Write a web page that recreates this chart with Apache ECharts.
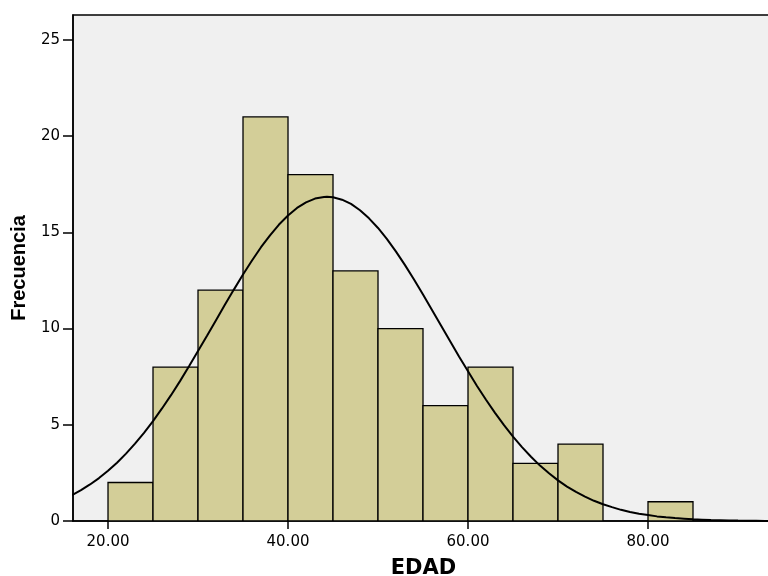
<!DOCTYPE html>
<html>
<head>
<meta charset="utf-8">
<script src="https://cdn.jsdelivr.net/npm/echarts@6.0.0/dist/echarts.min.js"></script>
<style>
html,body{margin:0;padding:0;background:#fff;}
#chart{width:768px;height:576px;}
</style>
</head>
<body>
<div id="chart"></div>
<script>
// Histogram bins of EDAD: [start, end, frequency]
const binStarts = [20, 25, 30, 35, 40, 45, 50, 55, 60, 65, 70, 80];
const binEnds   = [25, 30, 35, 40, 45, 50, 55, 60, 65, 70, 75, 85];
const counts    = [2, 8, 12, 21, 18, 13, 10, 6, 8, 3, 4, 1];

// Normal curve (x = EDAD, y = frecuencia)
const curveX = [16, 17, 18, 19, 20, 21, 22, 23, 24, 25, 26, 27, 28, 29, 30, 31, 32, 33, 34, 35, 36, 37, 38, 39, 40, 41, 42, 43, 44, 44.33, 45, 46, 47, 48, 49, 50, 51, 52, 53, 54, 55, 56, 57, 58, 59, 60, 61, 62, 63, 64, 65, 66, 67, 68, 69, 70, 71, 72, 73, 74, 75, 76, 77, 78, 79, 80, 81, 82, 83, 84, 85, 86, 87, 88, 89, 90, 91, 92, 93, 94];
const curveY = [1.34, 1.60, 1.90, 2.23, 2.61, 3.03, 3.50, 4.02, 4.58, 5.19, 5.85, 6.54, 7.27, 8.04, 8.83, 9.63, 10.44, 11.25, 12.04, 12.81, 13.54, 14.23, 14.85, 15.41, 15.88, 16.27, 16.56, 16.76, 16.84, 16.85, 16.83, 16.70, 16.48, 16.15, 15.73, 15.23, 14.65, 14.00, 13.30, 12.55, 11.77, 10.97, 10.16, 9.35, 8.55, 7.78, 7.02, 6.30, 5.62, 4.98, 4.39, 3.84, 3.34, 2.88, 2.48, 2.11, 1.79, 1.51, 1.27, 1.05, 0.87, 0.72, 0.58, 0.47, 0.38, 0.31, 0.24, 0.19, 0.15, 0.12, 0.09, 0.07, 0.05, 0.04, 0.03, 0.02, 0.015, 0.01, 0.005, 0.00];

const xTicks = [20, 40, 60, 80];
const yTicks = [0, 5, 10, 15, 20, 25];

const barData = binStarts.map((s, i) => [s, binEnds[i], counts[i]]);
const curveData = curveX.map((x, i) => [x, curveY[i]]);

const chart = echarts.init(document.getElementById('chart'));
chart.setOption({
  animation: false,
  backgroundColor: '#ffffff',
  grid: {
    left: 73, top: 15, right: -6, bottom: 55,
    outerBoundsMode: 'none', containLabel: false,
    show: true, backgroundColor: '#F0F0F0',
    borderColor: '#000', borderWidth: 1.5
  },
  xAxis: {
    type: 'value', min: 16.11, max: 94,
    name: 'EDAD', nameLocation: 'middle', nameGap: 37,
    nameTextStyle: {fontFamily: 'DejaVu Sans', fontWeight: 'bold', fontSize: 21, color: '#000'},
    axisLine: {show: true, onZero: false, lineStyle: {color: '#000', width: 1.5}},
    axisTick: {show: true, length: 8, customValues: xTicks, lineStyle: {color: '#000', width: 1.5}},
    axisLabel: {customValues: xTicks, margin: 14, color: '#000', fontFamily: 'DejaVu Sans', fontSize: 15,
      formatter: v => v.toFixed(2)},
    splitLine: {show: false}
  },
  yAxis: {
    type: 'value', min: 0, max: 26.3,
    name: 'Frecuencia', nameLocation: 'middle', nameRotate: 90, nameGap: 44,
    nameTextStyle: {fontFamily: 'Liberation Sans', fontWeight: 'bold', fontSize: 20, color: '#000'},
    axisLine: {show: true, lineStyle: {color: '#000', width: 1.5}},
    axisTick: {show: true, length: 10, customValues: yTicks, lineStyle: {color: '#000', width: 1.5}},
    axisLabel: {customValues: yTicks, margin: 13, color: '#000', fontFamily: 'DejaVu Sans', fontSize: 15},
    splitLine: {show: false}
  },
  series: [
    {
      type: 'custom',
      data: barData,
      encode: {x: [0, 1], y: 2},
      clip: true,
      renderItem: function (params, api) {
        const p0 = api.coord([api.value(0), api.value(2)]);
        const p1 = api.coord([api.value(1), 0]);
        return {
          type: 'rect',
          shape: {x: p0[0], y: p0[1], width: p1[0] - p0[0], height: p1[1] - p0[1]},
          style: {fill: '#D3CE98', stroke: '#000', lineWidth: 1.3}
        };
      },
      z: 2
    },
    {
      type: 'line',
      data: curveData,
      smooth: false,
      symbol: 'none',
      clip: true,
      lineStyle: {color: '#000', width: 2},
      z: 3
    }
  ]
});
</script>
</body>
</html>
